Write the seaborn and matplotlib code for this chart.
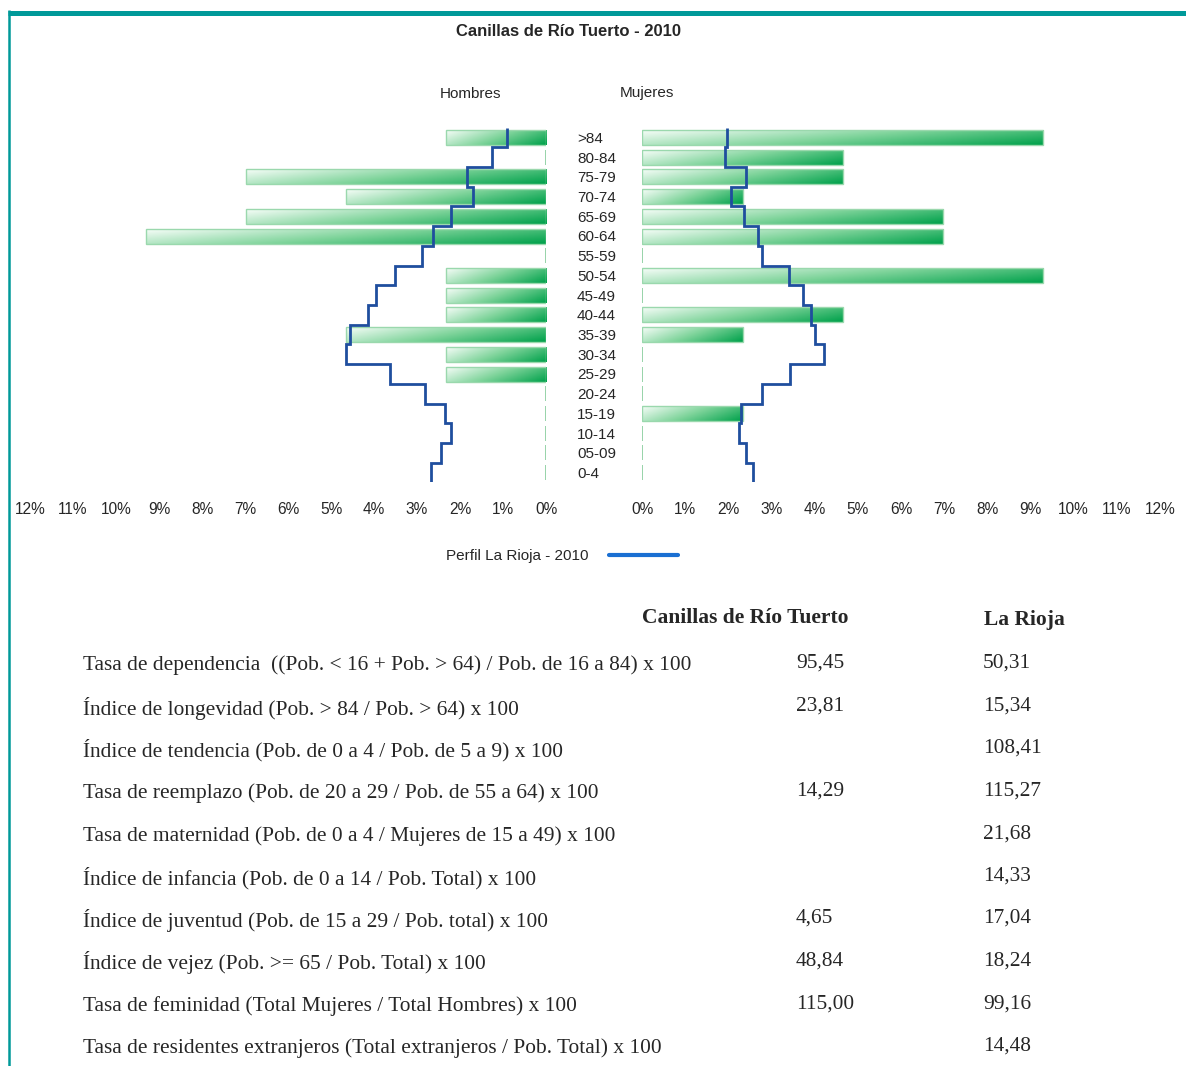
import numpy as np
import pandas as pd
import matplotlib
matplotlib.use("Agg")
import matplotlib.pyplot as plt
import matplotlib.transforms as mtransforms
from matplotlib.colors import LinearSegmentedColormap
from matplotlib.lines import Line2D
import seaborn as sns

# Datos de la piramide (% sobre la poblacion total)
edades = [">84", "80-84", "75-79", "70-74", "65-69", "60-64", "55-59", "50-54", "45-49",
          "40-44", "35-39", "30-34", "25-29", "20-24", "15-19", "10-14", "05-09", "0-4"]
hombres = [2.33, 0, 6.98, 4.65, 6.98, 9.30, 0, 2.33, 2.33,
           2.33, 4.65, 2.33, 2.33, 0, 0, 0, 0, 0]
mujeres = [9.30, 4.65, 4.65, 2.33, 6.98, 6.98, 0, 9.30, 0,
           4.65, 2.33, 0, 0, 0, 2.33, 0, 0, 0]
rioja_hombres = [0.91, 1.26, 1.83, 1.70, 2.22, 2.62, 2.88, 3.51, 3.95,
                 4.13, 4.56, 4.64, 3.63, 2.81, 2.35, 2.22, 2.44, 2.68]
rioja_mujeres = [1.97, 1.93, 2.40, 2.06, 2.36, 2.68, 2.78, 3.40, 3.74,
                 3.91, 4.00, 4.22, 3.42, 2.78, 2.29, 2.24, 2.42, 2.57]
ticks = list(range(0, 13))

# Indicadores
indicadores = [
    "Tasa de dependencia  ((Pob. < 16 + Pob. > 64) / Pob. de 16 a 84) x 100",
    "Índice de longevidad (Pob. > 84 / Pob. > 64) x 100",
    "Índice de tendencia (Pob. de 0 a 4 / Pob. de 5 a 9) x 100",
    "Tasa de reemplazo (Pob. de 20 a 29 / Pob. de 55 a 64) x 100",
    "Tasa de maternidad (Pob. de 0 a 4 / Mujeres de 15 a 49) x 100",
    "Índice de infancia (Pob. de 0 a 14 / Pob. Total) x 100",
    "Índice de juventud (Pob. de 15 a 29 / Pob. total) x 100",
    "Índice de vejez (Pob. >= 65 / Pob. Total) x 100",
    "Tasa de feminidad (Total Mujeres / Total Hombres) x 100",
    "Tasa de residentes extranjeros (Total extranjeros / Pob. Total) x 100",
]
valores_canillas = ["95,45", "23,81", "", "14,29", "", "", "4,65", "48,84", "115,00", ""]
valores_rioja = ["50,31", "15,34", "108,41", "115,27", "21,68", "14,33", "17,04", "18,24", "99,16", "14,48"]

df = pd.DataFrame({"edad": edades, "hombres": hombres, "mujeres": mujeres})

W, H = 1186, 1066
sns.set_style("white")
plt.rcParams["font.family"] = ["Liberation Sans", "DejaVu Sans"]
fig = plt.figure(figsize=(W / 100, H / 100), dpi=100)


def fx(px):
    return px / W


def fy(py):
    return 1 - py / H


y_top, y_bot = 127.6, 482.5
ax_h = fig.add_axes([fx(30), fy(y_bot), fx(546) - fx(30), (y_bot - y_top) / H])
ax_m = fig.add_axes([fx(642), fy(y_bot), fx(1160) - fx(642), (y_bot - y_top) / H])

cmap = LinearSegmentedColormap.from_list("verde", ["#f6fdf8", "#7fd49b", "#00a14b"])
xx = np.linspace(0, 1, 120)
yy = np.linspace(0, 1, 24)
grad = 0.72 * xx[None, :] + 0.28 * yy[:, None]

for ax, col, perfil, invert in [(ax_h, "hombres", rioja_hombres, True),
                                (ax_m, "mujeres", rioja_mujeres, False)]:
    sns.barplot(data=df, x=col, y="edad", orient="h", ax=ax, color="#7fd49b",
                saturation=1, width=0.76, errorbar=None,
                edgecolor="#9ad8ad", linewidth=1)
    for p in ax.patches:
        w = p.get_width()
        p.set_facecolor("none")
        p.set_zorder(3)
        if w <= 0:
            p.set_edgecolor("#8fd0a2")
            p.set_linewidth(1.3)
            continue
        y0, h = p.get_y(), p.get_height()
        ext = (w, 0, y0 + h, y0) if invert else (0, w, y0 + h, y0)
        im = ax.imshow(grad, cmap=cmap, extent=ext, aspect="auto",
                       origin="upper", zorder=2, interpolation="bilinear")
        im.set_clip_path(p)
    ax.stairs(perfil, np.arange(-0.5, len(edades)), orientation="horizontal",
              baseline=None, color="#1f4e9e", linewidth=2, zorder=4)
    ax.set_ylim(len(edades) - 0.5, -0.5)
    ax.set_xlim((12, 0) if invert else (0, 12))
    ax.set_xticks(ticks)
    ax.set_xticklabels([f"{t}%" for t in ticks], fontsize=11.2)
    ax.tick_params(axis="x", length=0, pad=14)
    ax.set_yticks([])
    ax.set_xlabel("")
    ax.set_ylabel("")
    sns.despine(ax=ax, left=True, bottom=True)

# Etiquetas de edad en el centro
trans = mtransforms.blended_transform_factory(fig.transFigure, ax_m.transData)
for i, e in enumerate(edades):
    ax_m.text(fx(577), i + 0.07, e, transform=trans, ha="left", va="center",
              fontsize=11, clip_on=False)

fig.text(fx(569), fy(32), "Canillas de Río Tuerto - 2010", ha="center", va="center",
         fontsize=12, fontweight="bold")
fig.text(fx(471), fy(94), "Hombres", ha="center", va="center", fontsize=11)
fig.text(fx(647), fy(93), "Mujeres", ha="center", va="center", fontsize=11)

handle = Line2D([], [], color="#1a6fd2", linewidth=3)
fig.legend([handle], ["Perfil La Rioja - 2010"], loc="center",
           bbox_to_anchor=(fx(562), fy(556)), frameon=False, markerfirst=False,
           handlelength=4.5, handletextpad=1.35, fontsize=11)

# Tabla de indicadores
serif = ["Liberation Serif", "DejaVu Serif"]
fig.text(fx(745), fy(618), "Canillas de Río Tuerto", ha="center", va="center",
         fontsize=15.5, fontweight="bold", family=serif)
fig.text(fx(1024), fy(620), "La Rioja", ha="center", va="center",
         fontsize=15.5, fontweight="bold", family=serif)
filas_y = [665, 708, 750, 793, 836, 878, 920, 963, 1006, 1048]
for yrow, ind, vc, vr in zip(filas_y, indicadores, valores_canillas, valores_rioja):
    fig.text(fx(83), fy(yrow), ind, ha="left", va="center", fontsize=15.4, family=serif)
    fig.text(fx(796), fy(yrow - 2), vc, ha="left", va="center", fontsize=15.4, family=serif)
    fig.text(fx(983), fy(yrow - 2), vr, ha="left", va="center", fontsize=15.4, family=serif)

# Marco
fig.add_artist(Line2D([fx(8), 1], [fy(12.5), fy(12.5)], color="#009999", linewidth=3.6,
                      solid_capstyle="butt"))
fig.add_artist(Line2D([fx(9), fx(9)], [fy(10), 0], color="#009999", linewidth=1.8,
                      solid_capstyle="butt"))

fig.savefig("out.png", dpi=100)
